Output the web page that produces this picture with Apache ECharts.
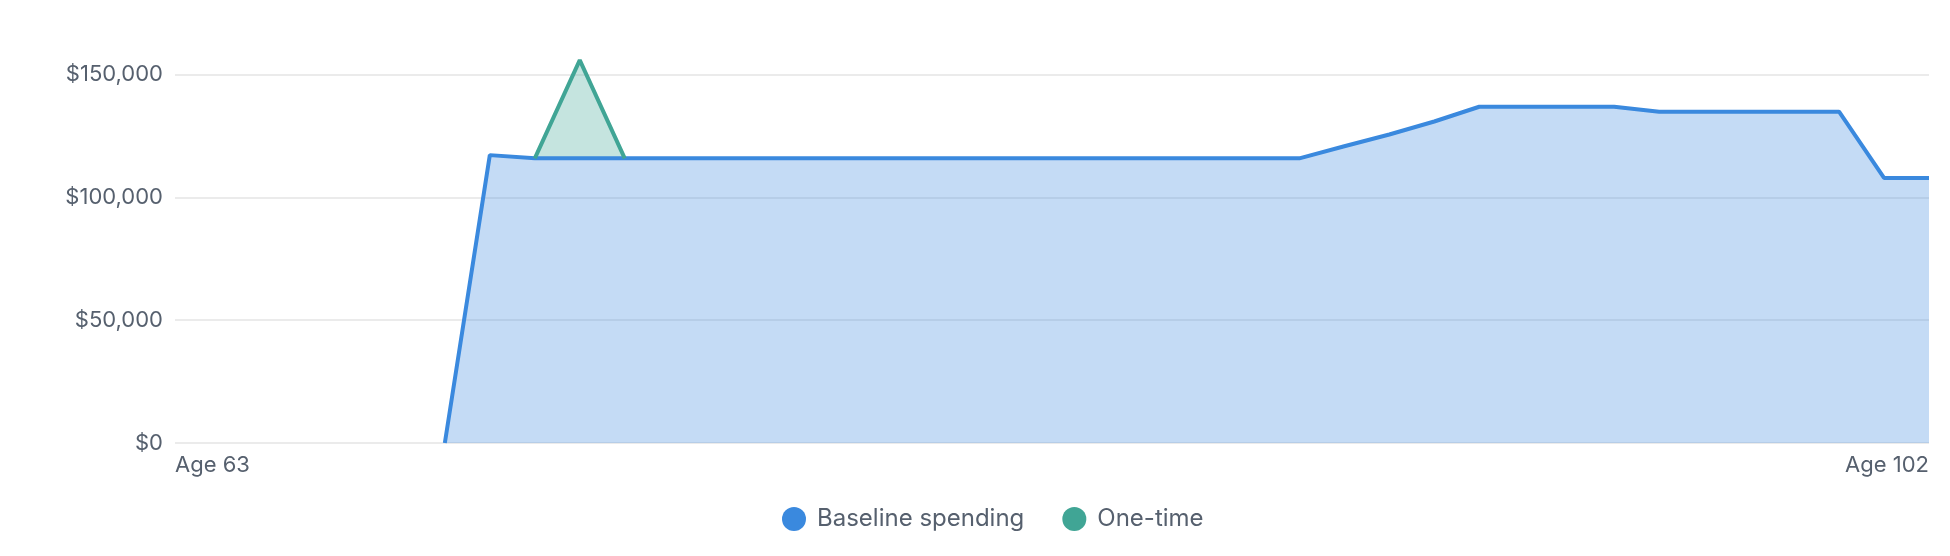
<!DOCTYPE html>
<html>
<head>
<meta charset="utf-8">
<script src="https://cdn.jsdelivr.net/npm/echarts@6/dist/echarts.min.js"></script>
<style>
  html, body { margin: 0; padding: 0; background: #fff; }
  #chart { width: 1950px; height: 556px; }
</style>
</head>
<body>
<div id="chart"></div>
<script>
// ages on the x axis
var ages = [63, 64, 65, 66, 67, 68, 69, 70, 71, 72, 73, 74, 75, 76, 77, 78, 79, 80, 81, 82,
            83, 84, 85, 86, 87, 88, 89, 90, 91, 92, 93, 94, 95, 96, 97, 98, 99, 100, 101, 102];

// yearly spending
var baseline = [null, null, null, null, null, null, 0, 117200, 115900, 115900,
                115900, 115900, 115900, 115900, 115900, 115900, 115900, 115900, 115900, 115900,
                115900, 115900, 115900, 115900, 115900, 115900, 120800, 125600, 130900, 136900,
                136900, 136900, 136900, 134900, 134900, 134900, 134900, 134900, 107900, 107900];

var oneTime = [null, null, null, null, null, null, null, null, 0, 40000,
               0, null, null, null, null, null, null, null, null, null,
               null, null, null, null, null, null, null, null, null, null,
               null, null, null, null, null, null, null, null, null, null];

var yTicks = [0, 50000, 100000, 150000];

var categories = ages.map(function (a) { return 'Age ' + a; });

var textColor = '#56606e';
var blue = '#3a89de';
var green = '#40a595';

var myChart = echarts.init(document.getElementById('chart'));

myChart.setOption({
    animation: false,
    textStyle: { fontFamily: 'Inter' },
    grid: { left: 175, right: 21, top: 50, bottom: 113 },
    legend: {
        top: 502,
        left: 777,
        icon: 'circle',
        itemWidth: 24,
        itemHeight: 24,
        itemGap: 38,
        textStyle: { color: textColor, fontSize: 24, fontFamily: 'Inter', padding: [0, 0, 0, 6] },
        data: ['Baseline spending', 'One-time']
    },
    xAxis: {
        type: 'category',
        boundaryGap: false,
        data: categories,
        axisLine: { show: false },
        axisTick: { show: false },
        axisLabel: {
            color: textColor,
            fontSize: 22,
            margin: 11,
            alignMinLabel: 'left',
            alignMaxLabel: 'right',
            interval: function (i) { return i === 0 || i === categories.length - 1; }
        }
    },
    yAxis: {
        type: 'value',
        min: 0,
        max: 160000,
        interval: 50000,
        axisLine: { show: false },
        axisTick: { show: false },
        axisLabel: {
            color: textColor,
            fontSize: 22,
            margin: 12,
            showMaxLabel: false,
            formatter: function (v) {
                if (yTicks.indexOf(v) < 0) return '';
                return '$' + v.toLocaleString('en-US');
            }
        },
        splitLine: { showMaxLine: false, lineStyle: { color: '#ebebeb', width: 2 } }
    },
    series: [
        {
            name: 'Baseline spending',
            type: 'line',
            stack: 'spend',
            data: baseline,
            symbol: 'none',
            lineStyle: { color: blue, width: 4 },
            itemStyle: { color: blue },
            areaStyle: { color: blue, opacity: 0.3 }
        },
        {
            name: 'One-time',
            type: 'line',
            stack: 'spend',
            data: oneTime,
            symbol: 'none',
            lineStyle: { color: green, width: 4 },
            itemStyle: { color: green },
            areaStyle: { color: green, opacity: 0.3 }
        }
    ]
});
</script>
</body>
</html>
